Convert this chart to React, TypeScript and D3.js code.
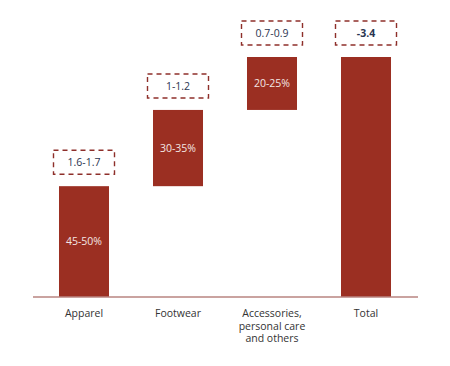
import React from 'react';
import * as d3 from 'd3';

const categories = ['Apparel', 'Footwear', 'Accessories,\npersonal care\nand others', 'Total'];
const deltas = [1.57, 1.08, 0.75];
const total = 3.4;
const barLabels = ['45-50%', '30-35%', '20-25%', ''];
const boxLabels = ['1.6-1.7', '1-1.2', '0.7-0.9', '-3.4'];

const App: React.FC = () => {
  const width = 450;
  const height = 366;
  const margin = { top: 57, bottom: 69, left: 33, right: 32 };

  // build waterfall segments
  const segs: { start: number; end: number }[] = [];
  let acc = 0;
  deltas.forEach(d => {
    segs.push({ start: acc, end: acc + d });
    acc += d;
  });
  segs.push({ start: 0, end: total });

  const x = d3.scaleBand<string>()
    .domain(categories)
    .range([37, 413])
    .paddingInner(0.468)
    .paddingOuter(0.234);

  const y = d3.scaleLinear()
    .domain([0, total])
    .range([height - margin.bottom, margin.top]);

  const bw = x.bandwidth();
  const boxW = 61;
  const boxH = 24;
  const gap = 12;
  const font = "'Open Sans', sans-serif";

  return (
    <svg width={width} height={height} style={{ position: 'absolute', left: 0, top: 0 }}>
      <rect width={width} height={height} fill="#fff" />
      {segs.map((s, i) => {
        const cx = x(categories[i])! + bw / 2;
        const yTop = y(s.end);
        const yBot = y(s.start);
        return (
          <g key={i}>
            <rect x={x(categories[i])} y={yTop} width={bw} height={yBot - yTop} fill="#9b2f22" />
            {barLabels[i] && (
              <text x={cx} y={(yTop + yBot) / 2} dy="0.35em" textAnchor="middle"
                fontFamily={font} fontSize={10.5} fill="#f3e6e4">{barLabels[i]}</text>
            )}
            <rect x={cx - boxW / 2} y={yTop - gap - boxH} width={boxW} height={boxH}
              fill="none" stroke="#8e2f2a" strokeWidth={1.4} strokeDasharray="5,4" />
            <text x={cx} y={yTop - gap - boxH / 2} dy="0.35em" textAnchor="middle"
              fontFamily={font} fontSize={10.5} fill="#2b3550"
              fontWeight={i === 3 ? 700 : 400}>{boxLabels[i]}</text>
          </g>
        );
      })}
      <line x1={33} x2={418} y1={y(0)} y2={y(0)} stroke="#b98480" strokeWidth={1.5} />
      {categories.map((c, i) => {
        const cx = x(c)! + bw / 2;
        return (
          <text key={c} x={cx} y={y(0) + 20} textAnchor="middle" fontFamily={font}
            fontSize={10.5} fill="#333">
            {c.split('\n').map((ln, j) => (
              <tspan key={j} x={cx} dy={j === 0 ? 0 : 12.5}>{ln}</tspan>
            ))}
          </text>
        );
      })}
    </svg>
  );
};

export default App;
